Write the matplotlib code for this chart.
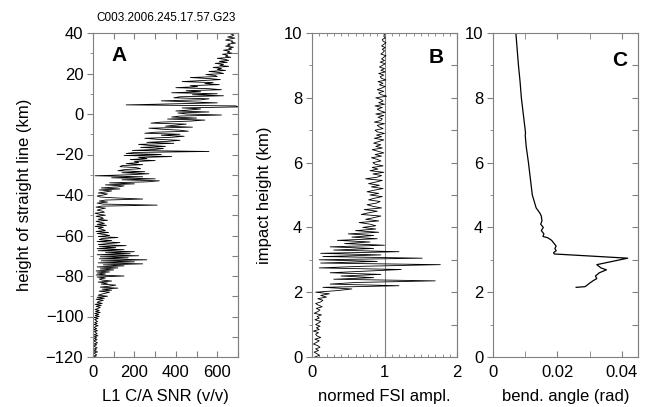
import numpy as np
import matplotlib
matplotlib.use("Agg")
import matplotlib.pyplot as plt
from matplotlib.ticker import MultipleLocator, FuncFormatter

plt.rcParams['font.family'] = ['Liberation Sans', 'DejaVu Sans']

title = "C003.2006.245.17.57.G23"

# Panel A: SNR vs height of straight line (sampled every 0.5 km from 40 down to -120)
snr_top, snr_step = 40.0, 0.5
snr = [
    690, 665, 680, 672, 650, 685, 660, 640, 675, 668, 688, 650, 662, 640, 678, 655, 670, 630, 660, 648,
    672, 625, 650, 640, 665, 600, 635, 655, 610, 648, 590, 630, 612, 655, 580, 620, 600, 640, 560, 610,
    630, 545, 590, 600, 470, 560, 615, 520, 430, 580, 540, 610, 470, 505, 400, 560, 620, 450, 520, 380,
    600, 480, 630, 420, 390, 560, 520, 330, 470, 600, 370, 160, 690, 700, 430, 520, 470, 400, 560, 410,
    450, 620, 420, 380, 500, 360, 540, 470, 330, 280, 450, 400, 350, 480, 270, 330, 420, 460, 300, 250,
    420, 330, 440, 380, 250, 310, 420, 360, 260, 390, 220, 270, 350, 230, 340, 300, 190, 560, 200, 160,
    330, 150, 380, 220, 260, 180, 300, 200, 220, 160, 240, 140, 130, 210, 230, 150, 120, 250, 140, 270,
    180, 10, 240, 90, 300, 140, 320, 260, 80, 200, 60, 150, 120, 40, 130, 30, 90, 60, 25, 70,
    50, 20, 35, 120, 240, 60, 30, 70, 20, 50, 310, 40, 15, 60, 35, 20, 45, 55, 10, 30,
    60, 15, 40, 50, 25, 70, 15, 35, 55, 20, 65, 10, 50, 25, 45, 60, 15, 75, 20, 55,
    80, 25, 120, 45, 30, 90, 20, 130, 70, 25, 160, 30, 110, 20, 150, 25, 200, 60, 180, 20,
    220, 35, 170, 30, 260, 40, 200, 25, 240, 50, 150, 20, 120, 35, 100, 15, 80, 20, 60, 15,
    150, 20, 60, 30, 45, 90, 25, 70, 40, 110, 80, 35, 120, 45, 90, 30, 80, 60, 40, 25,
    70, 20, 55, 15, 50, 30, 20, 45, 10, 40, 15, 35, 25, 10, 30, 12, 35, 8, 28, 10,
    30, 5, 25, 8, 15, 22, 8, 20, 4, 25, 12, 6, 18, 3, 22, 7, 14, 20, 4, 24,
    5, 18, 6, 20, 3, 12, 22, 5, 18, 4, 10, 20, 6, 16, 3, 22, 5, 11, 18, 4,
    15,
]
snr_height = snr_top - snr_step * np.arange(len(snr))

# Panel B: normed FSI amplitude vs impact height (every 0.05 km from 0 to 10)
fsi_step = 0.05
fsi = [
    0.04, 0.10, 0.07, 0.03, 0.09, 0.05, 0.11, 0.08, 0.02, 0.06, 0.10, 0.04, 0.12, 0.07, 0.05, 0.09, 0.02, 0.10, 0.06, 0.11,
    0.05, 0.09, 0.12, 0.04, 0.10, 0.07, 0.13, 0.03, 0.08, 0.11, 0.06, 0.14, 0.09, 0.05, 0.12, 0.15, 0.08, 0.20, 0.12, 0.24,
    0.05, 0.35, 0.55, 0.15, 1.20, 0.25, 0.60, 1.70, 0.30, 0.85, 0.40, 0.95, 0.25, 0.75, 1.23, 0.10, 0.70, 1.77, 0.12, 0.90,
    0.10, 1.52, 0.15, 0.95, 0.12, 1.20, 0.30, 0.85, 0.25, 1.00, 0.45, 0.80, 0.35, 0.90, 0.55, 0.85, 0.50, 0.92, 0.60, 0.88,
    0.70, 0.88, 0.80, 0.65, 0.92, 0.74, 0.85, 0.95, 0.68, 0.78, 0.90, 0.72, 0.96, 0.84, 0.76, 0.89, 0.94, 0.78, 0.86, 0.97,
    0.80, 0.92, 0.76, 0.86, 0.98, 0.82, 0.93, 0.78, 0.88, 0.97, 0.74, 0.90, 0.96, 0.84, 0.99, 0.80, 0.91, 0.83, 0.98, 0.87,
    0.84, 0.95, 0.90, 0.82, 0.96, 0.87, 0.99, 0.91, 0.83, 0.97, 0.88, 0.95, 0.85, 0.92, 0.99, 0.86, 0.96, 0.89, 1.00, 0.90,
    0.87, 0.98, 0.93, 0.90, 1.00, 0.86, 0.95, 0.97, 0.91, 0.99, 0.88, 1.01, 0.94, 0.90, 0.97, 0.87, 1.00, 0.92, 0.98, 0.95,
    0.88, 1.03, 0.95, 0.92, 0.99, 0.90, 0.96, 1.01, 0.93, 0.98, 0.91, 1.02, 0.96, 0.94, 0.99, 0.92, 1.01, 0.95, 1.00, 0.93,
    0.97, 1.01, 0.94, 1.00, 0.96, 0.99, 1.02, 0.95, 0.98, 1.00, 0.97, 1.01, 0.96, 0.99, 1.02, 0.98, 0.97, 1.01, 0.99, 1.00,
    0.98,
]
fsi_height = fsi_step * np.arange(len(fsi))

# Panel C: bending angle vs impact height
bend_height = [10.0, 9.5, 9.0, 8.5, 8.0, 7.5, 7.0, 6.9, 6.85, 6.5, 6.0, 5.5, 5.0, 4.8, 4.6,
               4.45, 4.35, 4.2, 4.1, 4.0, 3.9, 3.8, 3.72, 3.68, 3.6, 3.5, 3.42, 3.35, 3.28,
               3.22, 3.18, 3.05, 2.95, 2.85, 2.75, 2.69, 2.6, 2.5, 2.42, 2.35, 2.28, 2.2,
               2.17, 2.15]
bend_angle = [0.0071, 0.0075, 0.0079, 0.0084, 0.0088, 0.0094, 0.0100, 0.0101, 0.0100,
              0.0103, 0.0110, 0.0116, 0.0122, 0.0128, 0.0134, 0.0145, 0.0150, 0.0152,
              0.0148, 0.0156, 0.0150, 0.0158, 0.0155, 0.0170, 0.0182, 0.0190, 0.0196,
              0.0192, 0.0196, 0.0188, 0.0190, 0.0418, 0.0370, 0.0322, 0.0335, 0.0352,
              0.0330, 0.0318, 0.0322, 0.0310, 0.0300, 0.0290, 0.0285, 0.0258]

W, H = 651, 407
fig = plt.figure(figsize=(W / 100, H / 100), dpi=100)

spine_c = '#808080'
FS = 12


def make_ax(left_px, xlim, ylim, xmaj, xmin, ymaj, ymin, xfmt=None):
    ax = fig.add_axes([left_px / W, (H - 357) / H, 145 / W, 324 / H])
    ax.set_xlim(*xlim)
    ax.set_ylim(*ylim)
    for s in ax.spines.values():
        s.set_color(spine_c)
        s.set_linewidth(0.8)
    ax.xaxis.set_major_locator(MultipleLocator(xmaj))
    ax.xaxis.set_minor_locator(MultipleLocator(xmin))
    ax.yaxis.set_major_locator(MultipleLocator(ymaj))
    ax.yaxis.set_minor_locator(MultipleLocator(ymin))
    if xfmt is not None:
        ax.xaxis.set_major_formatter(FuncFormatter(xfmt))
    ax.tick_params(axis='x', which='both', direction='in', top=True, bottom=True,
                   color=spine_c, labelsize=FS, pad=6)
    ax.tick_params(axis='x', which='major', length=4, width=0.8)
    ax.tick_params(axis='x', which='minor', length=2, width=0.6)
    ax.tick_params(axis='y', which='both', direction='out', left=True, right=False,
                   color=spine_c, labelsize=FS, pad=3)
    ax.tick_params(axis='y', which='major', length=4, width=0.8)
    ax.tick_params(axis='y', which='minor', length=2, width=0.6)
    # right-hand inward ticks
    sec = ax.secondary_yaxis('right')
    sec.yaxis.set_major_locator(MultipleLocator(ymin))
    sec.tick_params(axis='y', which='major', direction='in', length=4, width=0.8,
                    color=spine_c, labelright=False)
    sec.tick_params(axis='y', which='minor', right=False)
    sec.spines['right'].set_color(spine_c)
    sec.spines['right'].set_linewidth(0.8)
    return ax


def fmt_int(v, pos):
    return f"{v:.0f}".replace('-', '\u2212')


def fmt_a_x(v, pos):
    return f"{v:.0f}" if abs(v % 200) < 1e-6 else ""


def fmt_c_x(v, pos):
    if abs(v) < 1e-12:
        return "0"
    return f"{v:.2f}"


# Panel A
axA = make_ax(93, (0, 700), (-120, 40), 100, 100, 20, 10, fmt_a_x)
axA.tick_params(axis='x', which='minor', length=4)
axA.yaxis.set_major_formatter(FuncFormatter(fmt_int))
axA.plot(snr, snr_height, color='black', lw=0.6)
axA.set_xlabel("L1 C/A SNR (v/v)", fontsize=FS)
axA.set_ylabel("height of straight line (km)", fontsize=FS)
axA.xaxis.set_label_coords(0.5, -0.10)
axA.yaxis.set_label_coords(-0.42, 0.5)
axA.text(0.183, 0.932, "A", transform=axA.transAxes, fontsize=15, fontweight='bold',
         ha='center', va='center')

# Panel B
axB = make_ax(312, (0, 2), (0, 10), 1, 0.1, 2, 1, fmt_int)
axB.axvline(1, color=spine_c, lw=0.8)
axB.plot(fsi, fsi_height, color='black', lw=0.6)
axB.set_xlabel("normed FSI ampl.", fontsize=FS)
axB.set_ylabel("impact height (km)", fontsize=FS)
axB.xaxis.set_label_coords(0.5, -0.10)
axB.yaxis.set_label_coords(-0.276, 0.5)
axB.text(0.859, 0.924, "B", transform=axB.transAxes, fontsize=15, fontweight='bold',
         ha='center', va='center')

# Panel C
axC = make_ax(493, (0, 0.045), (0, 10), 0.02, 0.01, 2, 1, fmt_c_x)
axC.tick_params(axis='x', which='minor', length=4)
axC.plot(bend_angle, bend_height, color='black', lw=0.9)
axC.set_xlabel("bend. angle (rad)", fontsize=FS)
axC.xaxis.set_label_coords(0.5, -0.10)
axC.text(0.872, 0.914, "C", transform=axC.transAxes, fontsize=15, fontweight='bold',
         ha='center', va='center')

fig.text(166 / W, 1 - 18 / H, title, fontsize=8.5, ha='center', va='center')

fig.savefig("out.png", dpi=100)
